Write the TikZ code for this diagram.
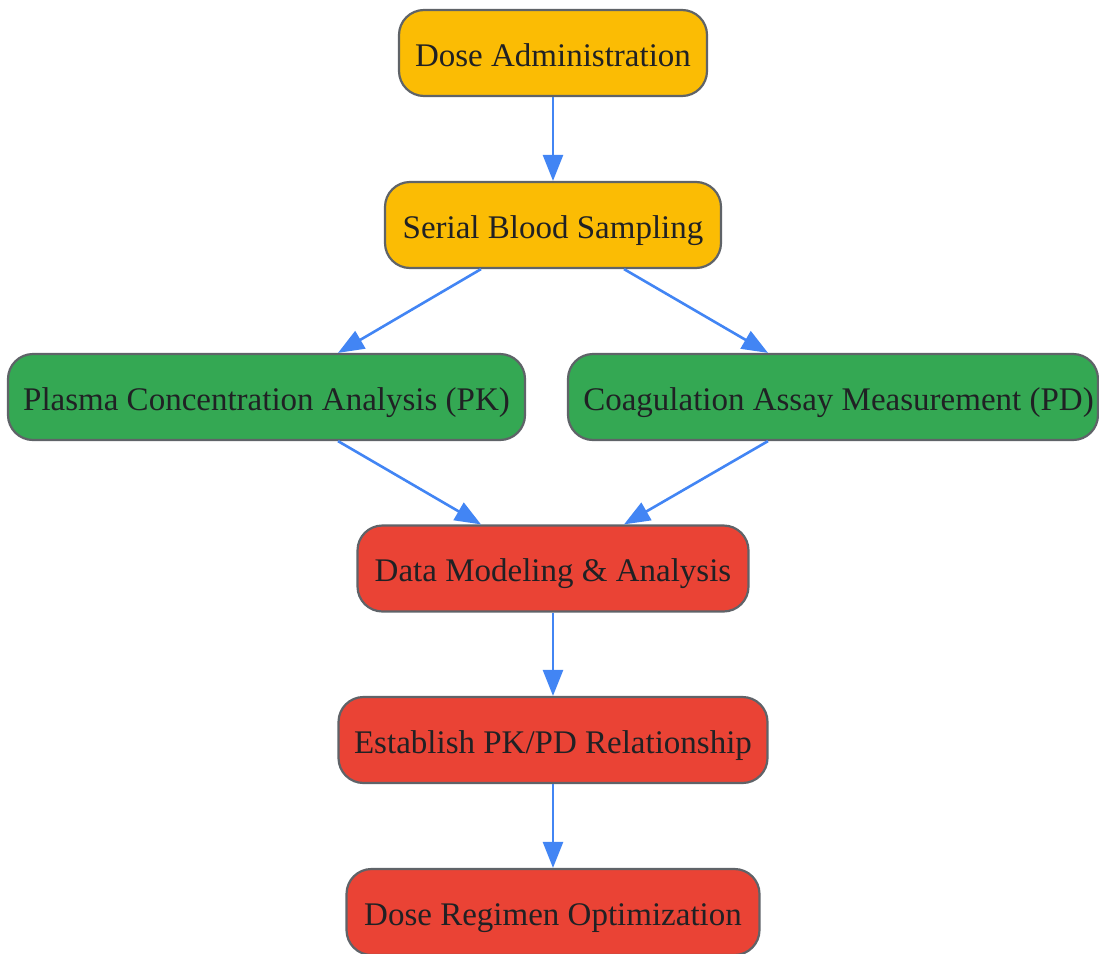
\documentclass[tikz,border=0pt]{standalone}
\usepackage{fontspec}
\setmainfont{Liberation Serif}
\usetikzlibrary{arrows.meta}
\definecolor{gyellow}{HTML}{FBBC04}
\definecolor{ggreen}{HTML}{34A853}
\definecolor{gred}{HTML}{EA4335}
\definecolor{gborder}{HTML}{5F6368}
\definecolor{garrow}{HTML}{4285F4}
\definecolor{gtext}{HTML}{202124}
\begin{document}
\begin{tikzpicture}[x=1pt,y=-1pt,
  box/.style={draw=gborder, line width=2.2pt, rounded corners=25pt, minimum height=86pt,
    inner xsep=14pt, text height=30pt, text depth=4pt, text=gtext,
    font=\fontsize{33}{40}\selectfont, anchor=center},
  yel/.style={box, fill=gyellow},
  grn/.style={box, fill=ggreen},
  rd/.style={box, fill=gred},
  conn/.style={draw=garrow, line width=2.6pt, -{Triangle[length=26pt,width=20pt]}}]
\useasboundingbox (0,0) rectangle (1099,953);
\node[yel, minimum width=308pt] (dose) at (553,53) {Dose Administration};
\node[yel, minimum width=336pt] (serial) at (553,225) {Serial Blood Sampling};
\node[grn, minimum width=517pt] (pk) at (266.5,397) {Plasma Concentration Analysis (PK)};
\node[grn, minimum width=530pt, inner xsep=3pt] (pd) at (833,397) {\hspace*{11pt}Coagulation Assay Measurement (PD)};
\node[rd, minimum width=391pt] (data) at (553,568.5) {Data Modeling \& Analysis};
\node[rd, minimum width=429pt] (est) at (553,740) {Establish PK/PD Relationship};
\node[rd, minimum width=413pt] (opt) at (553,912) {Dose Regimen Optimization};
\draw[conn] (dose.south) -- (serial.north);
\draw[conn] ([xshift=-72pt]serial.south) -- ([xshift=71.5pt]pk.north);
\draw[conn] ([xshift=71pt]serial.south) -- ([xshift=-65pt]pd.north);
\draw[conn] ([xshift=71.5pt]pk.south) -- ([xshift=-72pt]data.north);
\draw[conn] ([xshift=-65pt]pd.south) -- ([xshift=71pt]data.north);
\draw[conn] (data.south) -- (est.north);
\draw[conn] (est.south) -- (opt.north);
\end{tikzpicture}
\end{document}
